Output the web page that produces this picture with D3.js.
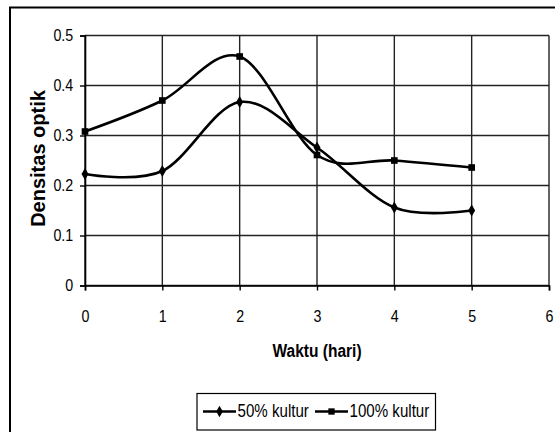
<!DOCTYPE html>
<html lang="en">
<head>
<meta charset="UTF-8">
<title>Densitas optik</title>
<script src="https://cdn.jsdelivr.net/npm/d3@7"></script>
<style>
  body { margin: 0; background: #fff; }
  svg { display: block; font-family: "Liberation Sans", Arial, sans-serif; }
</style>
</head>
<body>
<script>
// data
const days = [0, 1, 2, 3, 4, 5]
const kultur50 = [0.223, 0.229, 0.367, 0.276, 0.156, 0.150]
const kultur100 = [0.308, 0.370, 0.458, 0.261, 0.250, 0.236]
const xTicks = [0, 1, 2, 3, 4, 5, 6]
const yTicks = [0, 0.1, 0.2, 0.3, 0.4, 0.5]
const seriesNames = ["50% kultur", "100% kultur"]

const width = 555, height = 432
const sx = 0.84 // text in the original looks squeezed sideways
const svg = d3.select("body").append("svg").attr("width", width).attr("height", height)

// outer chart frame
svg.append("rect").attr("x", 10).attr("y", 7.5).attr("width", 560).attr("height", 450)
  .attr("fill", "none").attr("stroke", "#000").attr("stroke-width", 2)

const x = d3.scaleLinear().domain([0, 6]).range([85, 549])
const y = d3.scaleLinear().domain([0, 0.5]).range([285.5, 35.5])

// gridlines
const grid = svg.append("g").attr("stroke", "#222").attr("stroke-width", 1.4)
grid.selectAll(".h").data(yTicks).enter().append("line")
  .attr("x1", x(0)).attr("x2", x(6)).attr("y1", d => y(d)).attr("y2", d => y(d))
grid.selectAll(".v").data(xTicks).enter().append("line")
  .attr("x1", d => x(d)).attr("x2", d => x(d)).attr("y1", y(0)).attr("y2", y(0.5))

// axes
const xAxis = d3.axisBottom(x).tickValues(xTicks).tickFormat(d3.format("d")).tickSize(5).tickPadding(19)
const yAxis = d3.axisLeft(y).tickValues(yTicks).tickFormat(d => d === 0 ? "0" : d3.format(".1f")(d)).tickSize(5).tickPadding(9)

svg.append("g").attr("transform", `translate(0,${y(0)})`).call(xAxis)
  .call(g => g.select(".domain").attr("stroke-width", 1.6))
  .call(g => g.selectAll("line").attr("stroke-width", 1.4))
  .call(g => g.selectAll("text").attr("font-size", 17).attr("font-family", "Liberation Sans, Arial, sans-serif")
    .attr("transform", `scale(${sx},1)`))
svg.append("g").attr("transform", `translate(${x(0)},0)`).call(yAxis)
  .call(g => g.select(".domain").attr("stroke-width", 1.6))
  .call(g => g.selectAll("line").attr("stroke-width", 1.4))
  .call(g => g.selectAll("text").attr("font-size", 17).attr("font-family", "Liberation Sans, Arial, sans-serif")
    .attr("transform", `scale(${sx},1)`))

// axis titles
svg.append("text").attr("transform", `translate(317,357) scale(${sx},1)`).attr("text-anchor", "middle")
  .attr("font-size", 18.5).attr("font-weight", "bold").text("Waktu (hari)")
svg.append("text").attr("transform", "translate(45,158.5) rotate(-90)").attr("text-anchor", "middle")
  .attr("font-size", 20).attr("font-weight", "bold").text("Densitas optik")

// series
const line = d3.line().x((d, i) => x(days[i])).y(d => y(d)).curve(d3.curveCatmullRom.alpha(0))
const series = [kultur50, kultur100]
series.forEach((vals, k) => {
  svg.append("path").datum(vals).attr("d", line)
    .attr("fill", "none").attr("stroke", "#000").attr("stroke-width", 2.6)
  const sym = d3.symbol().type(k === 0 ? d3.symbolDiamond : d3.symbolSquare).size(k === 0 ? 42 : 44)
  svg.selectAll(null).data(vals).enter().append("path")
    .attr("d", sym).attr("transform", (d, i) => `translate(${x(days[i])},${y(d)})`)
    .attr("fill", "#000")
})

// legend
const legend = svg.append("g")
legend.append("rect").attr("x", 197).attr("y", 393.5).attr("width", 238.5).attr("height", 36.5)
  .attr("fill", "#fff").attr("stroke", "#000").attr("stroke-width", 1.2)
const legX = [203, 315]
seriesNames.forEach((name, k) => {
  const g = legend.append("g").attr("transform", `translate(${legX[k]},411.5)`)
  g.append("line").attr("x1", 0).attr("x2", 33).attr("stroke", "#000").attr("stroke-width", 2.4)
  g.append("path").attr("d", d3.symbol().type(k === 0 ? d3.symbolDiamond : d3.symbolSquare).size(k === 0 ? 38 : 40))
    .attr("transform", "translate(16.5,0)").attr("fill", "#000")
  g.append("text").attr("transform", `translate(34.5,5.5) scale(${sx},1)`).attr("font-size", 18).text(name)
})
</script>
</body>
</html>
